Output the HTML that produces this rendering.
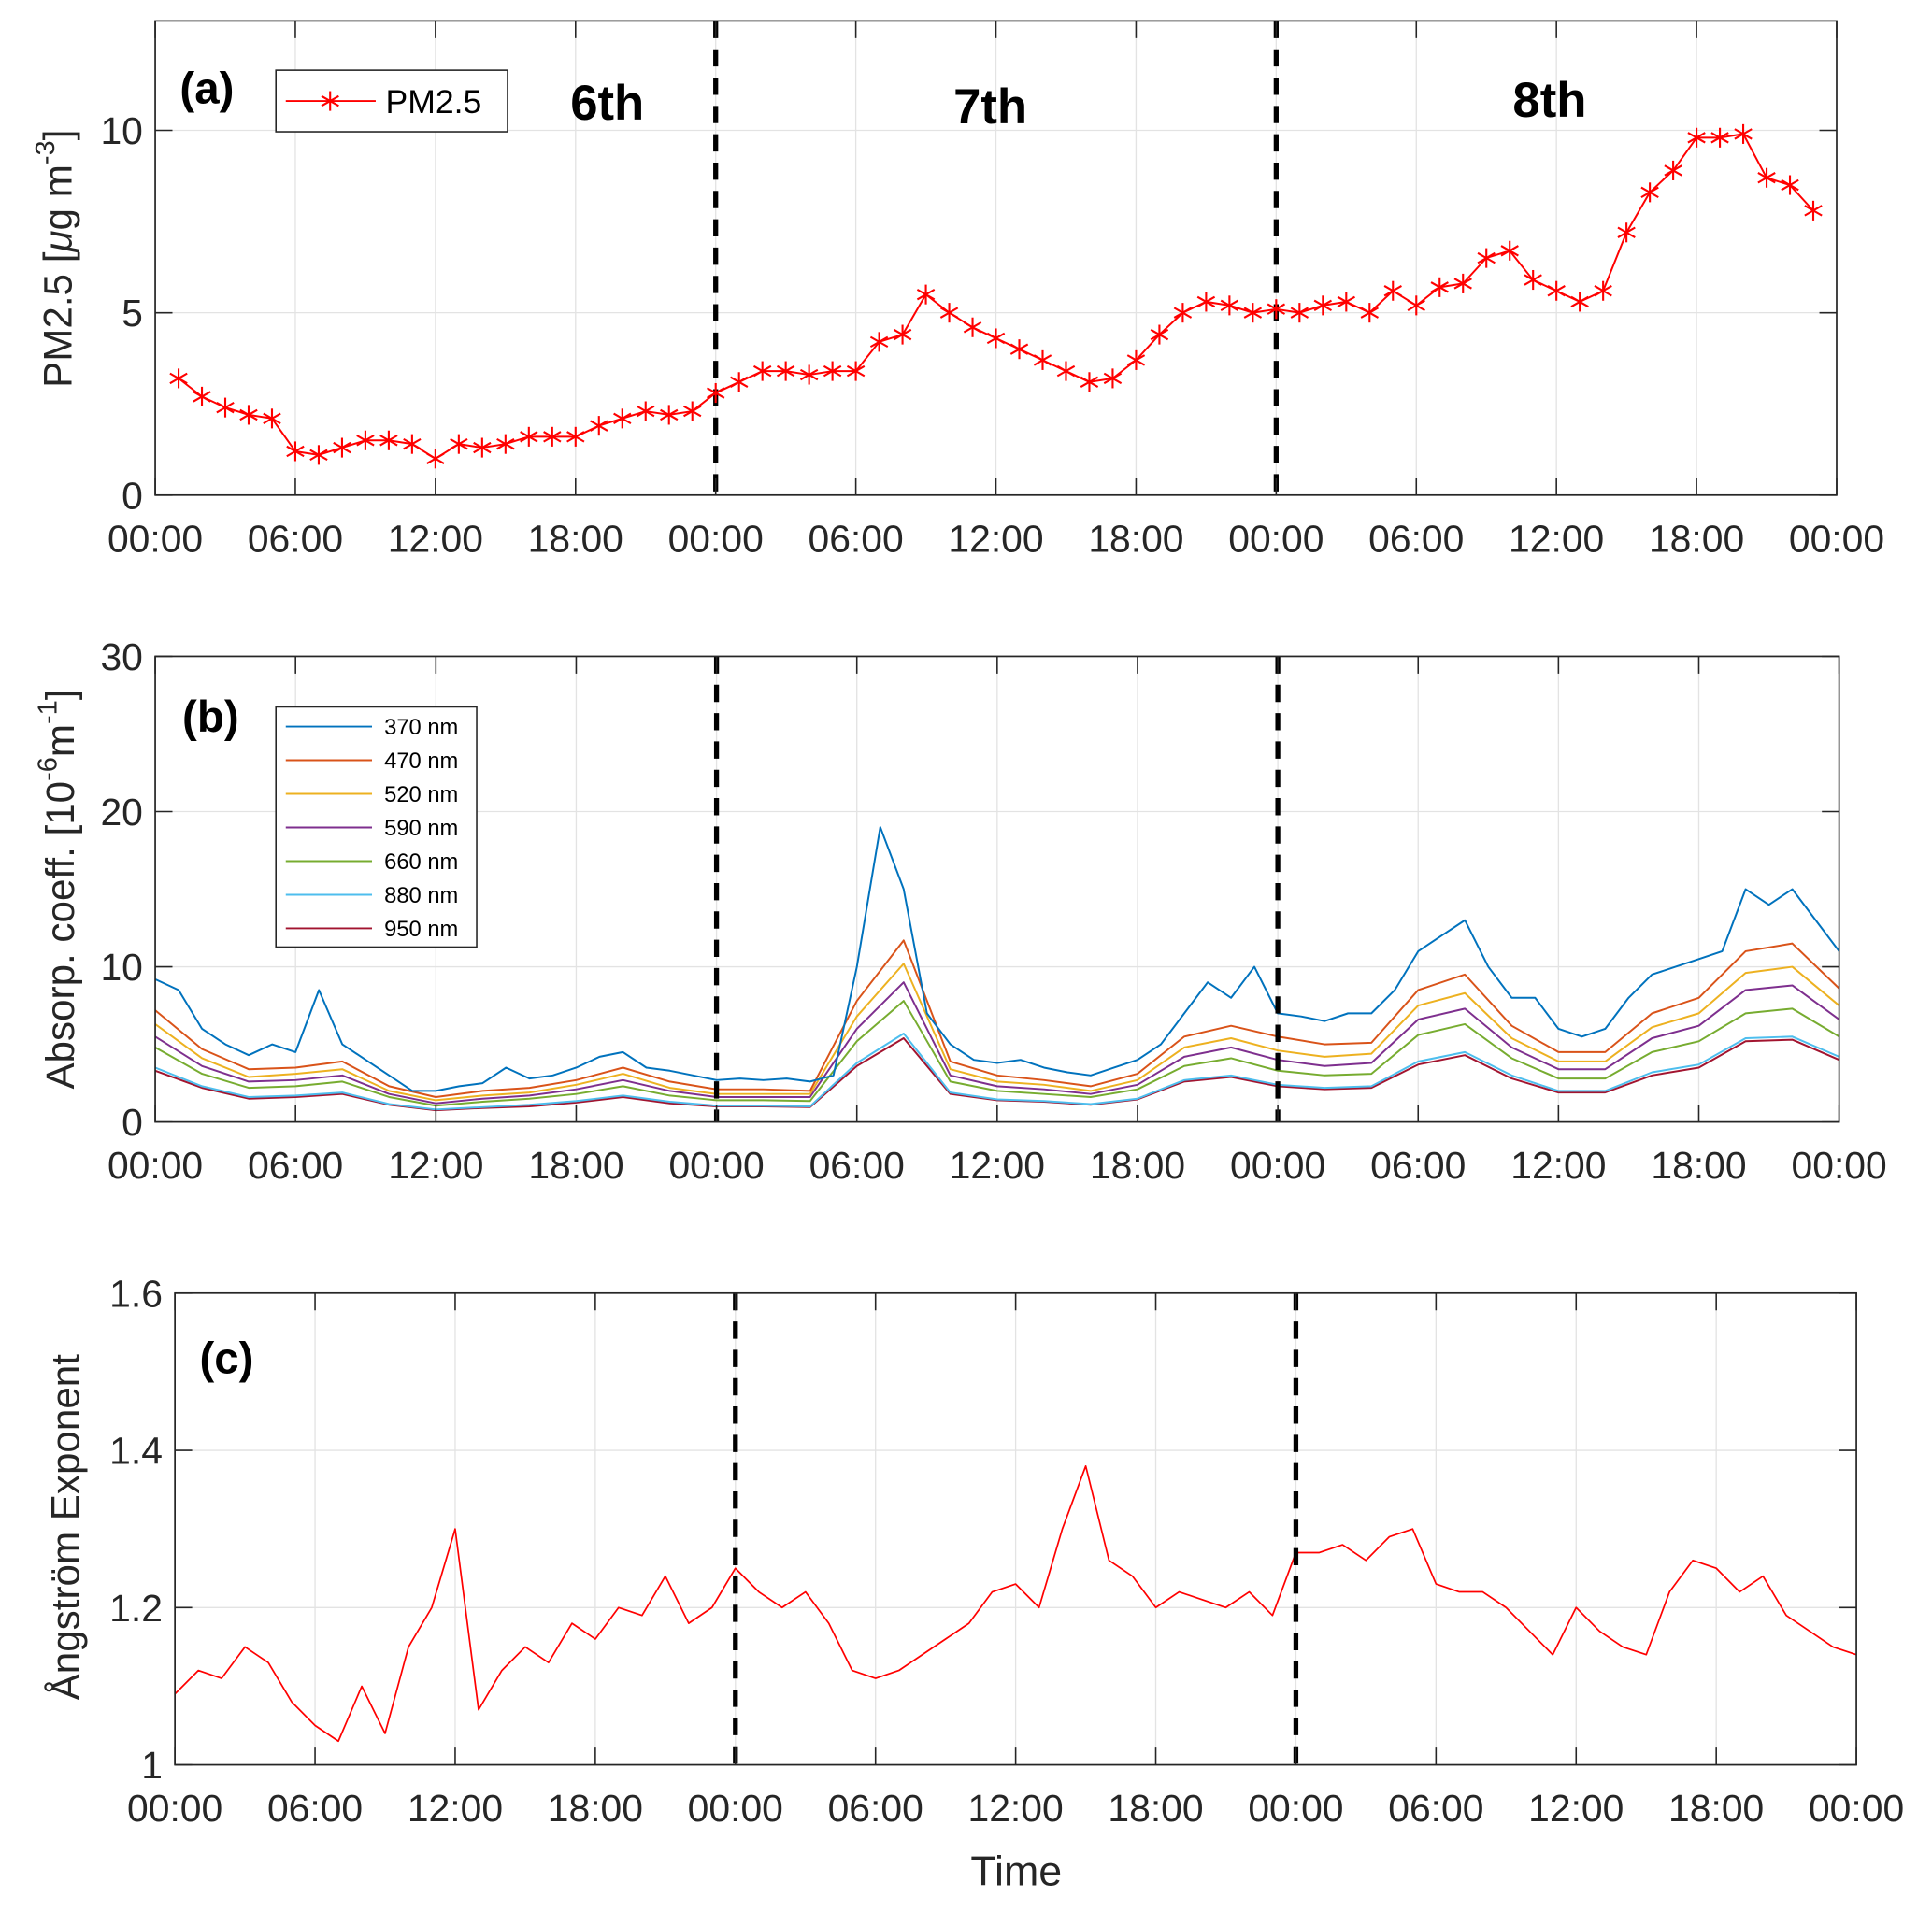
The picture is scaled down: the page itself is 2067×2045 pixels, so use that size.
<!DOCTYPE html>
<html><head><meta charset="utf-8"><style>
html,body{margin:0;padding:0;background:#fff;}
svg{display:block;font-family:"Liberation Sans",Arial,sans-serif;}
</style></head><body>
<svg id="chart" xmlns="http://www.w3.org/2000/svg" width="2067" height="2045" viewBox="0 0 1568.4 1551.7">
<rect x="0" y="0" width="1570" height="1553" fill="#fff"/>
</svg>
<script>
// ===== Data =====
const xTickLabels = ["00:00","06:00","12:00","18:00","00:00","06:00","12:00","18:00","00:00","06:00","12:00","18:00","00:00"];
const dayBoundaries = [24, 48];
const dayLabels = ["6th","7th","8th"];
const pmHours = [1,2,3,4,5,6,7,8,9,10,11,12,13,14,15,16,17,18,19,20,21,22,23,24,25,26,27,28,29,30,31,32,33,34,35,36,37,38,39,40,41,42,43,44,45,46,47,48,49,50,51,52,53,54,55,56,57,58,59,60,61,62,63,64,65,66,67,68,69,70,71];
const pm25 = [3.2,2.7,2.4,2.2,2.1,1.2,1.1,1.3,1.5,1.5,1.4,1.0,1.4,1.3,1.4,1.6,1.6,1.6,1.9,2.1,2.3,2.2,2.3,2.8,3.1,3.4,3.4,3.3,3.4,3.4,4.2,4.4,5.5,5.0,4.6,4.3,4.0,3.7,3.4,3.1,3.2,3.7,4.4,5.0,5.3,5.2,5.0,5.1,5.0,5.2,5.3,5.0,5.6,5.2,5.7,5.8,6.5,6.7,5.9,5.6,5.3,5.6,7.2,8.3,8.9,9.8,9.8,9.9,8.7,8.5,7.8];
const pmTicks = [0,5,10];
const absTicks = [0,10,20,30];
const angTicks = [1,1.2,1.4,1.6];
const absLabels = ["370 nm","470 nm","520 nm","590 nm","660 nm","880 nm","950 nm"];
const abs370 = [9.2,8.5,6,5,4.3,5,4.5,8.5,5,4,3,2,2,2.3,2.5,3.5,2.8,3,3.5,4.2,4.5,3.5,3.3,3,2.7,2.8,2.7,2.8,2.6,3,10,19,15,7,5,4,3.8,4,3.5,3.2,3,3.5,4,5,7,9,8,10,7,6.8,6.5,7,7,8.5,11,12,13,10,8,8,6,5.5,6,8,9.5,10,10.5,11,15,14,15,13,11];
const abs470 = [7.2,4.7,3.4,3.5,3.9,2.3,1.6,2,2.2,2.7,3.5,2.6,2.1,2.1,2,7.8,11.7,3.9,3,2.7,2.3,3.1,5.5,6.2,5.5,5,5.1,8.5,9.5,6.2,4.5,4.5,7,8,11,11.5,8.6];
const abs520 = [6.3,4.1,2.9,3.1,3.4,2,1.4,1.7,1.9,2.4,3.1,2.2,1.8,1.8,1.8,6.8,10.2,3.4,2.6,2.4,2,2.7,4.8,5.4,4.6,4.2,4.4,7.5,8.3,5.4,3.9,3.9,6.1,7,9.6,10,7.5];
const abs590 = [5.5,3.6,2.6,2.7,3,1.8,1.2,1.5,1.7,2.1,2.7,2,1.6,1.6,1.6,6,9,3,2.3,2.1,1.8,2.4,4.2,4.8,4,3.6,3.8,6.6,7.3,4.8,3.4,3.4,5.4,6.2,8.5,8.8,6.6];
const abs660 = [4.8,3.1,2.2,2.3,2.6,1.6,1.05,1.3,1.5,1.8,2.3,1.7,1.4,1.4,1.35,5.2,7.8,2.6,2,1.8,1.6,2.1,3.6,4.1,3.3,3,3.1,5.6,6.3,4.1,2.8,2.8,4.5,5.2,7,7.3,5.5];
const abs880 = [3.5,2.3,1.6,1.7,1.9,1.15,0.8,0.95,1.1,1.35,1.7,1.3,1.05,1.05,1,3.8,5.7,1.9,1.45,1.35,1.15,1.5,2.7,3,2.4,2.2,2.3,3.9,4.5,3,2,2,3.2,3.7,5.4,5.5,4.2];
const abs950 = [3.3,2.2,1.5,1.6,1.8,1.1,0.75,0.9,1,1.25,1.6,1.2,1,1,0.95,3.6,5.4,1.8,1.4,1.3,1.1,1.45,2.6,2.9,2.3,2.1,2.2,3.7,4.3,2.8,1.9,1.9,3,3.5,5.2,5.3,4];
const angstrom = [1.09,1.12,1.11,1.15,1.13,1.08,1.05,1.03,1.10,1.04,1.15,1.20,1.30,1.07,1.12,1.15,1.13,1.18,1.16,1.20,1.19,1.24,1.18,1.20,1.25,1.22,1.20,1.22,1.18,1.12,1.11,1.12,1.14,1.16,1.18,1.22,1.23,1.20,1.30,1.38,1.26,1.24,1.20,1.22,1.21,1.20,1.22,1.19,1.27,1.27,1.28,1.26,1.29,1.30,1.23,1.22,1.22,1.20,1.17,1.14,1.20,1.17,1.15,1.14,1.22,1.26,1.25,1.22,1.24,1.19,1.17,1.15,1.14];

const absColors = ["#0072BD","#D95319","#EDB120","#7E2F8E","#77AC30","#4DBEEE","#A2142F"];
const NS = "http://www.w3.org/2000/svg";
const svg = document.getElementById("chart");
function mk(tag, attrs, parent, text){
  const e = document.createElementNS(NS, tag);
  for (const k in attrs) e.setAttribute(k, attrs[k]);
  if (text !== undefined) e.textContent = text;
  (parent || svg).appendChild(e);
  return e;
}
function makePanel(name, x0, x1, y0, y1, ymin, ymax){
  const g = mk("g", {});
  
  
  const xs = h => x0 + (h / 72) * (x1 - x0);
  const ys = v => y1 - (v - ymin) / (ymax - ymin) * (y1 - y0);
  return {g, xs, ys, x0, x1, y0, y1};
}
function drawAxes(p, yTicks){
  for (let i = 0; i < xTickLabels.length; i++){
    const x = p.xs(i * 6);
    const gl = mk("line", {x1:x, x2:x, y1:p.y0, y2:p.y1, stroke:"#e3e3e3", "stroke-width":1}, p.g);
    
    
  }
  yTicks.forEach(v => {
    const y = p.ys(v);
    const gl = mk("line", {x1:p.x0, x2:p.x1, y1:y, y2:y, stroke:"#e3e3e3", "stroke-width":1}, p.g);
    
    
  });
}
function drawFrame(p, yTicks, yFmt){
  const fr = mk("rect", {x:p.x0, y:p.y0, width:p.x1-p.x0, height:p.y1-p.y0, fill:"none", stroke:"#262626", "stroke-width":1.3}, p.g);
  
  
  for (let i = 0; i < xTickLabels.length; i++){
    const x = p.xs(i * 6);
    mk("line", {x1:x, x2:x, y1:p.y1, y2:p.y1-14, stroke:"#262626", "stroke-width":1.2}, p.g);
    mk("line", {x1:x, x2:x, y1:p.y0, y2:p.y0+14, stroke:"#262626", "stroke-width":1.2}, p.g);
    const t = mk("text", {x:x, y:p.y1+46, "font-size":31, fill:"#262626", "text-anchor":"middle"}, p.g, xTickLabels[i]);
    
    
  }
  yTicks.forEach(v => {
    const y = p.ys(v);
    mk("line", {x1:p.x0, x2:p.x0+14, y1:y, y2:y, stroke:"#262626", "stroke-width":1.2}, p.g);
    mk("line", {x1:p.x1, x2:p.x1-14, y1:y, y2:y, stroke:"#262626", "stroke-width":1.2}, p.g);
    const t = mk("text", {x:p.x0-10, y:y+11, "font-size":31, fill:"#262626", "text-anchor":"end"}, p.g, yFmt(v));
    
    
  });
}
function dashes(p){
  dayBoundaries.forEach(h => {
    const x = p.xs(h);
    const l = mk("line", {x1:x, x2:x, y1:p.y0, y2:p.y1, stroke:"#000", "stroke-width":4, "stroke-dasharray":"14 9"}, p.g);
    
    
  });
}
function polyline(p, xsArr, vals, color, width, name){
  const pts = vals.map((v,i) => p.xs(xsArr[i]).toFixed(1) + "," + p.ys(v).toFixed(1)).join(" ");
  const pl = mk("polyline", {points:pts, fill:"none", stroke:color, "stroke-width":width, "stroke-linejoin":"round"}, p.g);
  
  
  return pl;
}
function star(g, x, y, r, color){
  const s = mk("g", {stroke:color, "stroke-width":1.6}, g);
  
  
  mk("line", {x1:x, x2:x, y1:y-r, y2:y+r}, s);
  mk("line", {x1:x-r*0.87, x2:x+r*0.87, y1:y-r*0.5, y2:y+r*0.5}, s);
  mk("line", {x1:x-r*0.87, x2:x+r*0.87, y1:y+r*0.5, y2:y-r*0.5}, s);
}

// ===== Panel (a) =====
const pa = makePanel("panel-a-pm25", 126, 1491, 17, 402, 0, 13);
drawAxes(pa, pmTicks);
dashes(pa);
polyline(pa, pmHours, pm25, "#ff0000", 1.5, "pm25-line");
pm25.forEach((v,i) => star(pa.g, pa.xs(pmHours[i]), pa.ys(v), 8, "#ff0000"));
drawFrame(pa, pmTicks, v => String(v));
let t;
t = mk("text", {x:146, y:84, "font-size":36, "font-weight":"bold", fill:"#000"}, pa.g, "(a)");
 
const dayX = [493, 804, 1258], dayY = [97, 100, 95];
dayLabels.forEach((d,i) => {
  const e = mk("text", {x:dayX[i], y:dayY[i], "font-size":40, "font-weight":"bold", fill:"#000", "text-anchor":"middle"}, pa.g, d);
  
  
});
const lega = mk("g", {}, pa.g);


mk("rect", {x:224, y:57, width:188, height:50, fill:"#fff", stroke:"#262626", "stroke-width":1.2}, lega);
mk("line", {x1:232, x2:305, y1:82, y2:82, stroke:"#ff0000", "stroke-width":1.5}, lega);
star(lega, 268, 82, 8, "#ff0000");
mk("text", {x:313, y:92, "font-size":27, fill:"#000"}, lega, "PM2.5");
t = mk("text", {transform:"translate(58,210) rotate(-90)", "font-size":32, fill:"#262626", "text-anchor":"middle"}, svg);
 
t.innerHTML = 'PM2.5 [<tspan font-style="italic">μ</tspan>g  m<tspan font-size="22" dy="-14">-3</tspan><tspan dy="14">]</tspan>';

// ===== Panel (b) =====
const pb = makePanel("panel-b-absorption", 126, 1493, 533, 911, 0, 30);
drawAxes(pb, absTicks);
const hourly = abs370.map((_,i) => i);
const twoHourly = abs470.map((_,i) => i*2);
const absSeries = [abs370, abs470, abs520, abs590, abs660, abs880, abs950];
for (let k = absSeries.length-1; k >= 0; k--){
  const xsArr = k === 0 ? hourly : twoHourly;
  polyline(pb, xsArr, absSeries[k], absColors[k], 1.5, "abs-line-" + absLabels[k].replace(" ",""));
}
dashes(pb);
drawFrame(pb, absTicks, v => String(v));
t = mk("text", {x:148, y:594, "font-size":36, "font-weight":"bold", fill:"#000"}, pb.g, "(b)");
 
const legb = mk("g", {}, pb.g);


mk("rect", {x:224, y:574, width:163, height:195, fill:"#fff", stroke:"#262626", "stroke-width":1.2}, legb);
absLabels.forEach((lab,i) => {
  const y = 590 + i*27.3;
  const ent = mk("g", {}, legb);
  
  
  mk("line", {x1:232, x2:302, y1:y, y2:y, stroke:absColors[i], "stroke-width":1.5}, ent);
  mk("text", {x:312, y:y+6.5, "font-size":18, fill:"#000"}, ent, lab);
});
t = mk("text", {transform:"translate(60,722) rotate(-90)", "font-size":32, fill:"#262626", "text-anchor":"middle"}, svg);
 
t.innerHTML = 'Absorp. coeff. [10<tspan font-size="22" dy="-14">-6</tspan><tspan dy="14">m</tspan><tspan font-size="22" dy="-14">-1</tspan><tspan dy="14">]</tspan>';

// ===== Panel (c) =====
const pc = makePanel("panel-c-angstrom", 142, 1507, 1050, 1433, 1, 1.6);
drawAxes(pc, angTicks);
polyline(pc, angstrom.map((_,i) => i), angstrom, "#ff0000", 1.3, "angstrom-line");
dashes(pc);
drawFrame(pc, angTicks, v => v === 1 ? "1" : v.toFixed(1));
t = mk("text", {x:162, y:1115, "font-size":36, "font-weight":"bold", fill:"#000"}, pc.g, "(c)");
 
t = mk("text", {transform:"translate(64,1240) rotate(-90)", "font-size":32, fill:"#262626", "text-anchor":"middle"}, svg, "Ångström Exponent");
 
t = mk("text", {x:825, y:1531, "font-size":34, fill:"#262626", "text-anchor":"middle"}, svg, "Time");
 
</script>
</body></html>
